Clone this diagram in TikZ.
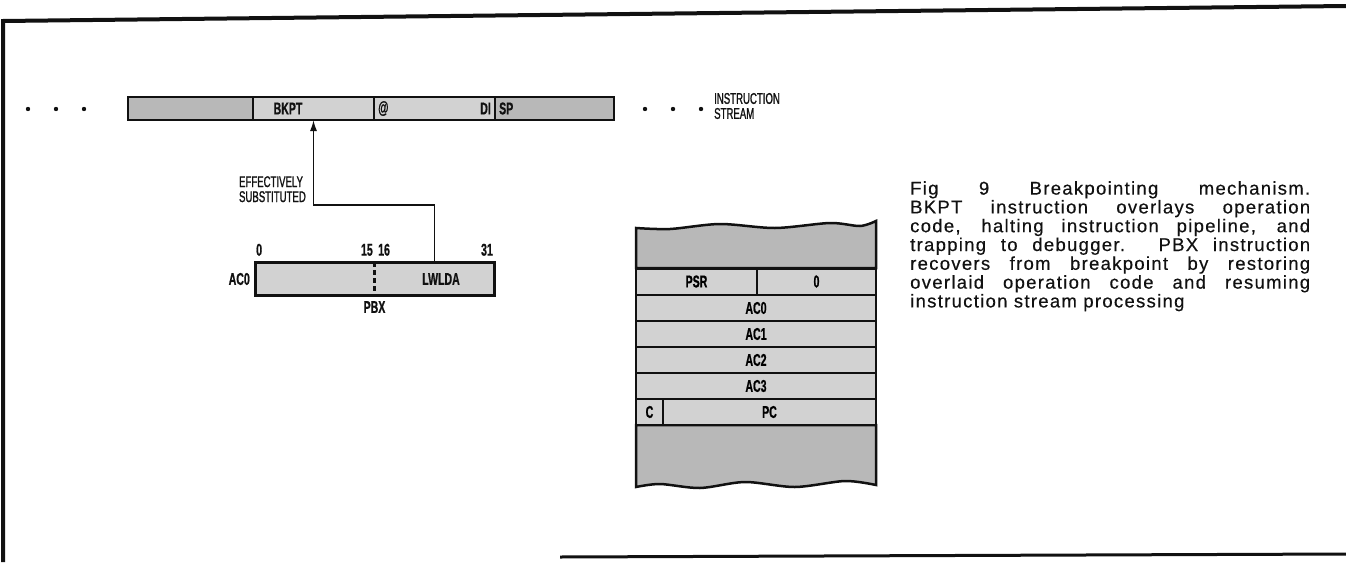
\documentclass[tikz,border=0pt]{standalone}
\usepackage{fontspec}
\newfontfamily\capfont[LetterSpace=7, FakeBold=0.4]{Liberation Sans}
\newfontfamily\tagfont[FakeStretch=0.62, BoldFeatures={FakeBold=0.8}]{Liberation Sans}
\newfontfamily\notefont[FakeStretch=0.62, FakeBold=1.2]{Liberation Sans}
\usetikzlibrary{arrows.meta, positioning, calc}
\definecolor{ink}{HTML}{111111}
\definecolor{stipple}{HTML}{D2D2D2}
\definecolor{stippledk}{HTML}{B8B8B8}

\begin{document}
\begin{tikzpicture}[x=1pt, y=-1pt,
  >={Latex[length=11pt, width=7pt]},
  cell/.style={draw=ink, fill=stipple, line width=2.5pt, minimum height=23pt,
               inner sep=0pt, outer sep=0pt},
  reg/.style={draw=ink, fill=stipple, line width=2pt, minimum height=26pt,
              inner sep=0pt, outer sep=0pt, font=\tagfont\bfseries\fontsize{17}{17}\selectfont},
  tag/.style={font=\tagfont\bfseries\fontsize{17}{17}\selectfont, text=ink, inner sep=0pt},
  note/.style={font=\notefont\fontsize{15.5}{15}\selectfont, text=ink, inner sep=0pt, align=left},
]
\useasboundingbox (0,0) rectangle (1346,562);

% Frame
\draw[ink, line width=4pt] (1346,6) -- (3,21) -- (3,562);
\draw[ink, line width=3pt] (560,557) -- (1346,554);

% ============ Instruction stream ============
\foreach \x in {28,56,84} \fill[ink] (\x,109) circle (2.2pt);
\node[cell, fill=stippledk, minimum width=125pt] (lead) at (190.5,108.5) {};
\node[cell, minimum width=121pt] (bkpt) at (313.5,108.5) {};
\node[cell, minimum width=121pt] (disp) at (434.5,108.5) {};
\node[cell, fill=stippledk, minimum width=119pt] (sp) at (554.5,108.5) {};
\node[tag] (bkpttxt) at (288,108.5) {BKPT};
\node[tag, anchor=west] (attxt) at (378,108.5) {@};
\node[tag, anchor=east] (ditxt) at (491,108.5) {DI};
\node[tag, anchor=west] (sptxt) at (499,108.5) {SP};
\foreach \x in {645,673,701} \fill[ink] (\x,109) circle (2.2pt);
\node[note, anchor=west] (stream) at (714,106) {INSTRUCTION\\STREAM};

% ============ PBX word ============
\node[cell, minimum width=239pt, minimum height=33pt, line width=3pt] (lwlda) at (374.5,278.5) {};
\draw[ink, line width=2.5pt, dash pattern=on 5pt off 3pt] (lwlda.north) -- (lwlda.south);
\node[tag] (lwldatxt) at (441,279) {LWLDA};
\node[tag, anchor=east] (acreg) at (250,279) {AC0};
\node[tag, below=6pt of lwlda] (pbx) {PBX};
\node[tag, anchor=south west] (bit0) at (256,256) {0};
\node[tag, anchor=south east] (bit15) at (373,256) {15};
\node[tag, anchor=south west] (bit16) at (378,256) {16};
\node[tag, anchor=south east] (bit31) at (493,256) {31};

% Substitution arrow
\coordinate (elbow) at (313.5,205);
\draw[ink, line width=1.5pt, ->] (lwlda.north -| disp) |- (elbow) -- (bkpt.south);
\node[note, anchor=north east] (subst) at (306,176) {EFFECTIVELY\\SUBSTITUTED};

% ============ Register stack ============
\filldraw[fill=stippledk, draw=ink, line width=2.5pt] (636,268) -- plot[smooth] coordinates
  {(636,228) (670,229) (720,224) (775,228) (830,223) (860,226) (876,221)} -- (876,268) -- cycle;
\filldraw[fill=stippledk, draw=ink, line width=2.5pt] (636,425) -- plot[smooth] coordinates
  {(636,487) (660,484) (700,488) (745,482) (795,487) (845,481) (876,485)} -- (876,425) -- cycle;

\node[reg, minimum width=121pt] (psr) at (696.5,281.5) {PSR};
\node[reg, minimum width=119pt] (zero) at (816.5,281.5) {0};
\node[reg, minimum width=240pt] (ac0) at (756,308) {AC0};
\node[reg, minimum width=240pt, below=0pt of ac0] (ac1) {AC1};
\node[reg, minimum width=240pt, below=0pt of ac1] (ac2) {AC2};
\node[reg, minimum width=240pt, below=0pt of ac2] (ac3) {AC3};
\node[reg, minimum width=27pt] (cbit) at (649.5,412) {C};
\node[reg, minimum width=213pt] (pc) at (769.5,412) {PC};

% ============ Caption ============
\node[anchor=north west, text width=400pt, align=justify, inner sep=0pt, text=ink,
      font=\capfont\fontsize{18.5}{18.8}\selectfont] (caption) at (910,181)
  {Fig 9 Breakpointing mechanism.\linebreak
   BKPT instruction overlays operation\linebreak
   code, halting instruction pipeline, and\linebreak
   trapping to debugger. PBX instruction\linebreak
   recovers from breakpoint by restoring\linebreak
   overlaid operation code and resuming\linebreak
   instruction stream processing};

\end{tikzpicture}
\end{document}
